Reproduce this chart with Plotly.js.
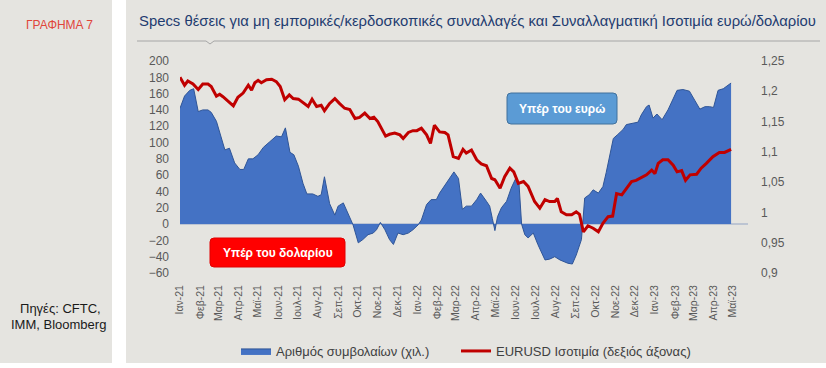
<!DOCTYPE html>
<html>
<head>
<meta charset="utf-8">
<script src="https://cdn.plot.ly/plotly-3.0.1.min.js"></script>
<style>
  html, body { margin: 0; padding: 0; background: #ffffff; }
  #chart { width: 826px; height: 368px; }
</style>
</head>
<body>
<div id="chart"></div>
<script>
// ---- data ----
const specDates = [
  '2021-01-01','2021-01-08','2021-01-16','2021-01-22','2021-01-29','2021-02-05','2021-02-13','2021-02-18','2021-02-26',
  '2021-03-06','2021-03-11','2021-03-18','2021-03-26','2021-04-03','2021-04-09','2021-04-16','2021-04-23','2021-05-01',
  '2021-05-09','2021-05-19','2021-05-29','2021-06-06','2021-06-12','2021-06-19','2021-06-25','2021-07-02','2021-07-09',
  '2021-07-15','2021-07-24','2021-08-01','2021-08-06','2021-08-11','2021-08-19','2021-08-27','2021-09-01','2021-09-09',
  '2021-09-16','2021-09-24','2021-10-02','2021-10-09','2021-10-17','2021-10-25','2021-10-30','2021-11-05','2021-11-12',
  '2021-11-19','2021-11-25','2021-12-02','2021-12-10','2021-12-18','2021-12-25','2022-01-02','2022-01-07','2022-01-15',
  '2022-01-22','2022-01-30','2022-02-04','2022-02-14','2022-02-26','2022-03-05','2022-03-11','2022-03-17','2022-03-25',
  '2022-04-02','2022-04-08','2022-04-17','2022-04-22','2022-04-26','2022-04-30','2022-05-04','2022-05-10','2022-05-18',
  '2022-05-25','2022-06-01','2022-06-06','2022-06-10','2022-06-15','2022-06-20','2022-06-28','2022-07-05','2022-07-16',
  '2022-07-23','2022-07-31','2022-08-08','2022-08-15','2022-08-20','2022-08-27','2022-09-02','2022-09-10','2022-09-15',
  '2022-09-22','2022-09-28','2022-10-06','2022-10-13','2022-10-18','2022-10-23','2022-10-29','2022-11-05','2022-11-13',
  '2022-11-18','2022-11-26','2022-12-06','2022-12-11','2022-12-19','2022-12-23','2022-12-29','2023-01-04','2023-01-12',
  '2023-01-21','2023-01-29','2023-02-04','2023-02-13','2023-02-23','2023-03-03','2023-03-11','2023-03-19','2023-03-26',
  '2023-04-01','2023-04-08','2023-04-16','2023-04-22','2023-04-28'
];
const specValues = [
  142,157,164,166,138,140,140,137,126,
  103,91,93,75,67,67,80,80,85,
  94,101,108,107,118,88,85,71,50,
  37,37,34,36,58,25,11,22,26,
  13,-1,-23,-19,-13,-11,-7,2,-7,
  -19,-25,-11,-13,-11,-7,-1,5,24,
  30,30,38,50,64,56,18,22,22,
  30,38,28,22,7,-8,9,20,28,
  44,56,50,0,-13,-17,-11,-25,-44,
  -43,-40,-44,-46,-48,-49,-38,-19,32,
  36,42,38,46,63,83,105,110,116,
  122,123,125,134,144,146,130,135,128,
  140,155,164,165,163,152,141,144,144,
  143,164,166,169,173
];
const fxDates = [
  '2021-01-01','2021-01-08','2021-01-13','2021-01-21','2021-01-29','2021-02-05','2021-02-13','2021-02-18','2021-02-26',
  '2021-03-03','2021-03-08','2021-03-16','2021-03-24','2021-03-31','2021-04-08','2021-04-16','2021-04-21','2021-04-26',
  '2021-05-01','2021-05-06','2021-05-14','2021-05-22','2021-05-29','2021-06-04','2021-06-11','2021-06-18','2021-06-24',
  '2021-07-02','2021-07-09','2021-07-17','2021-07-23','2021-07-30','2021-08-06','2021-08-11','2021-08-19','2021-08-27',
  '2021-09-03','2021-09-11','2021-09-19','2021-09-27','2021-10-04','2021-10-12','2021-10-20','2021-10-26','2021-11-01',
  '2021-11-07','2021-11-13','2021-11-19','2021-11-27','2021-12-05','2021-12-10','2021-12-18','2021-12-25','2021-12-31',
  '2022-01-07','2022-01-15','2022-01-21','2022-01-27','2022-02-04','2022-02-12','2022-02-17','2022-02-25','2022-03-05',
  '2022-03-12','2022-03-17','2022-03-25','2022-04-02','2022-04-09','2022-04-17','2022-04-25','2022-04-30','2022-05-08',
  '2022-05-15','2022-05-23','2022-05-29','2022-06-05','2022-06-13','2022-06-20','2022-06-30','2022-07-08','2022-07-16',
  '2022-07-23','2022-07-31','2022-08-04','2022-08-10','2022-08-18','2022-08-26','2022-09-02','2022-09-07','2022-09-13',
  '2022-09-20','2022-09-28','2022-10-06','2022-10-13','2022-10-21','2022-10-28','2022-11-03','2022-11-11','2022-11-18',
  '2022-11-26','2022-12-03','2022-12-11','2022-12-19','2022-12-27','2023-01-01','2023-01-06','2023-01-13','2023-01-21',
  '2023-01-29','2023-02-04','2023-02-11','2023-02-17','2023-02-24','2023-03-06','2023-03-13','2023-03-21','2023-03-31',
  '2023-04-10','2023-04-18','2023-04-28'
];
const fxValues = [
  1.223,1.210,1.217,1.212,1.203,1.212,1.212,1.208,1.192,
  1.195,1.191,1.183,1.176,1.190,1.197,1.210,1.202,1.214,
  1.218,1.214,1.219,1.220,1.216,1.208,1.186,1.194,1.188,
  1.187,1.181,1.175,1.187,1.175,1.177,1.168,1.180,1.188,
  1.180,1.172,1.170,1.155,1.157,1.164,1.155,1.157,1.150,
  1.139,1.126,1.129,1.131,1.128,1.122,1.132,1.135,1.135,
  1.139,1.128,1.114,1.144,1.133,1.132,1.128,1.092,1.089,
  1.104,1.098,1.103,1.087,1.080,1.077,1.056,1.054,1.040,
  1.059,1.073,1.067,1.048,1.051,1.043,1.018,1.007,1.021,
  1.018,1.018,1.023,1.001,0.996,0.996,1.001,0.997,0.968,
  0.978,0.974,0.968,0.982,0.993,0.994,1.031,1.029,1.040,
  1.051,1.053,1.058,1.062,1.070,1.064,1.081,1.087,1.087,
  1.078,1.067,1.069,1.053,1.062,1.063,1.073,1.081,1.092,
  1.099,1.099,1.104
];
const monthTickDates = [
  '2021-01-01','2021-02-01','2021-03-01','2021-04-01','2021-05-01','2021-06-01','2021-07-01','2021-08-01','2021-09-01',
  '2021-10-01','2021-11-01','2021-12-01','2022-01-01','2022-02-01','2022-03-01','2022-04-01','2022-05-01','2022-06-01',
  '2022-07-01','2022-08-01','2022-09-01','2022-10-01','2022-11-01','2022-12-01','2023-01-01','2023-02-01','2023-03-01',
  '2023-04-01','2023-05-01'
];
const monthTickLabels = [
  'Ιαν-21','Φεβ-21','Μαρ-21','Απρ-21','Μαϊ-21','Ιουν-21','Ιουλ-21','Αυγ-21','Σεπ-21',
  'Οκτ-21','Νοε-21','Δεκ-21','Ιαν-22','Φεβ-22','Μαρ-22','Απρ-22','Μαϊ-22','Ιουν-22',
  'Ιουλ-22','Αυγ-22','Σεπ-22','Οκτ-22','Νοε-22','Δεκ-22','Ιαν-23','Φεβ-23','Μαρ-23',
  'Απρ-23','Μαϊ-23'
];
const rightTickValues = [0.9, 0.95, 1, 1.05, 1.1, 1.15, 1.2, 1.25];
const rightTickLabels = ['0,9', '0,95', '1', '1,05', '1,1', '1,15', '1,2', '1,25'];
const seriesNames = ['Αριθμός συμβολαίων (χιλ.)', 'EURUSD Ισοτιμία (δεξιός άξονας)'];

// ---- layout helpers (pixel -> paper / container) ----
const CW = 826, CH = 368;
const L = 180, R = 748, T = 61, B = 273;
const W = R - L, H = B - T;
const px = p => (p - L) / W;
const py = p => (B - p) / H;
const cx = p => p / CW;
const cy = p => 1 - p / CH;
function roundRect(x0, y0, x1, y1, r) {
  const P = (a, b) => px(a) + ',' + py(b);
  return 'M' + P(x0 + r, y0) + ' L' + P(x1 - r, y0) + ' Q' + P(x1, y0) + ' ' + P(x1, y0 + r) +
         ' L' + P(x1, y1 - r) + ' Q' + P(x1, y1) + ' ' + P(x1 - r, y1) +
         ' L' + P(x0 + r, y1) + ' Q' + P(x0, y1) + ' ' + P(x0, y1 - r) +
         ' L' + P(x0, y0 + r) + ' Q' + P(x0, y0) + ' ' + P(x0 + r, y0) + ' Z';
}

const FONT = 'Liberation Sans, Arial, sans-serif';
const BG = '#e5e4e0';

const traces = [
  {
    x: specDates, y: specValues, type: 'scatter', mode: 'lines',
    fill: 'tozeroy', fillcolor: '#4472c4',
    line: { color: '#2f5597', width: 1 },
    name: seriesNames[0], legend: 'legend', hoverinfo: 'skip'
  },
  {
    x: fxDates, y: fxValues, type: 'scatter', mode: 'lines', yaxis: 'y2',
    line: { color: '#c00000', width: 3 },
    name: seriesNames[1], legend: 'legend2', hoverinfo: 'skip'
  }
];

const legendFont = { family: FONT, size: 13, color: '#404040' };
const xRange = ['2021-01-01', '2023-05-24'];

const layout = {
  width: CW, height: CH,
  margin: { l: L, r: CW - R, t: T, b: CH - B, pad: 0 },
  paper_bgcolor: '#ffffff',
  plot_bgcolor: 'rgba(0,0,0,0)',
  font: { family: FONT, color: '#595959' },
  showlegend: true,
  legend: {
    orientation: 'h', xref: 'container', yref: 'container',
    x: cx(236), xanchor: 'left', y: cy(351), yanchor: 'middle',
    font: legendFont, bgcolor: 'rgba(0,0,0,0)'
  },
  legend2: {
    orientation: 'h', xref: 'container', yref: 'container',
    x: cx(456), xanchor: 'left', y: cy(351), yanchor: 'middle',
    font: legendFont, bgcolor: 'rgba(0,0,0,0)'
  },
  xaxis: {
    type: 'date', range: xRange,
    tickvals: monthTickDates, ticktext: monthTickLabels,
    tickangle: -90, tickfont: { family: FONT, size: 10.5, color: '#595959' },
    showgrid: false, zeroline: false, showline: false, ticks: '',
    ticklabelstandoff: 9, automargin: false, fixedrange: true
  },
  xaxis2: {
    type: 'date', range: xRange, overlaying: 'x', anchor: 'free', position: 60 / 260,
    tickvals: monthTickDates, showticklabels: false,
    ticks: 'outside', ticklen: 4, tickwidth: 1, tickcolor: '#f4f4f4',
    showgrid: false, zeroline: false, showline: false, automargin: false, fixedrange: true
  },
  yaxis: {
    range: [-60, 200], dtick: 20, tick0: 0,
    tickfont: { family: FONT, size: 12, color: '#595959' },
    showgrid: false, zeroline: true, zerolinecolor: '#bcc4d2', zerolinewidth: 1.5,
    showline: false, ticks: '', ticklabelstandoff: 10, automargin: false, fixedrange: true
  },
  yaxis2: {
    overlaying: 'y', side: 'right', range: [0.9, 1.25],
    tickvals: rightTickValues, ticktext: rightTickLabels,
    tickfont: { family: FONT, size: 12, color: '#595959' },
    showgrid: false, zeroline: false, showline: false, ticks: '',
    ticklabelstandoff: 12, automargin: false, fixedrange: true
  },
  shapes: [
    // grey panels
    { type: 'rect', xref: 'paper', yref: 'paper', layer: 'below',
      x0: px(0), x1: px(112), y0: py(363), y1: py(0), fillcolor: BG, line: { width: 0 } },
    { type: 'rect', xref: 'paper', yref: 'paper', layer: 'below',
      x0: px(126), x1: px(826), y0: py(363), y1: py(0), fillcolor: BG, line: { width: 0 } },
    // title underline with chevron
    { type: 'path', xref: 'paper', yref: 'paper', layer: 'below',
      path: 'M' + px(137) + ',' + py(41) + ' L' + px(206) + ',' + py(41) + ' L' + px(210) + ',' + py(44) +
            ' L' + px(214) + ',' + py(41) + ' L' + px(820) + ',' + py(41),
      line: { color: '#a6a6a6', width: 1 } },
    // label boxes
    { type: 'path', xref: 'paper', yref: 'paper', layer: 'above',
      path: roundRect(210, 238, 345, 267, 4), fillcolor: '#ff0000', line: { color: '#e00000', width: 1 } },
    { type: 'path', xref: 'paper', yref: 'paper', layer: 'above',
      path: roundRect(507, 93, 617, 124, 4), fillcolor: '#5b9bd5', line: { color: '#41719c', width: 1 } }
  ],
  annotations: [
    { xref: 'paper', yref: 'paper', x: px(137), y: py(21), xanchor: 'left', yanchor: 'middle',
      text: 'Specs θέσεις για μη εμπορικές/κερδοσκοπικές συναλλαγές και Συναλλαγματική Ισοτιμία ευρώ/δολαρίου',
      showarrow: false, font: { family: FONT, size: 14.85, color: '#1f3c70' } },
    { xref: 'paper', yref: 'paper', x: px(59), y: py(25), xanchor: 'center', yanchor: 'middle',
      text: 'ΓΡΑΦΗΜΑ 7', showarrow: false, font: { family: FONT, size: 12, color: '#e0453a' } },
    { xref: 'paper', yref: 'paper', x: px(60), y: py(308.5), xanchor: 'center', yanchor: 'middle',
      text: 'Πηγές: CFTC,', showarrow: false, font: { family: FONT, size: 13, color: '#1a1a1a' } },
    { xref: 'paper', yref: 'paper', x: px(58), y: py(324.5), xanchor: 'center', yanchor: 'middle',
      text: 'IMM, Bloomberg', showarrow: false, font: { family: FONT, size: 13, color: '#1a1a1a' } },
    { xref: 'paper', yref: 'paper', x: px(277.5), y: py(252.5), xanchor: 'center', yanchor: 'middle',
      text: '<b>Υπέρ του δολαρίου</b>', showarrow: false, font: { family: FONT, size: 12, color: '#ffffff' } },
    { xref: 'paper', yref: 'paper', x: px(562), y: py(108.5), xanchor: 'center', yanchor: 'middle',
      text: '<b>Υπέρ του ευρώ</b>', showarrow: false, font: { family: FONT, size: 12, color: '#ffffff' } }
  ]
};

Plotly.newPlot('chart', traces, layout, { staticPlot: true, displayModeBar: false });
</script>
</body>
</html>
